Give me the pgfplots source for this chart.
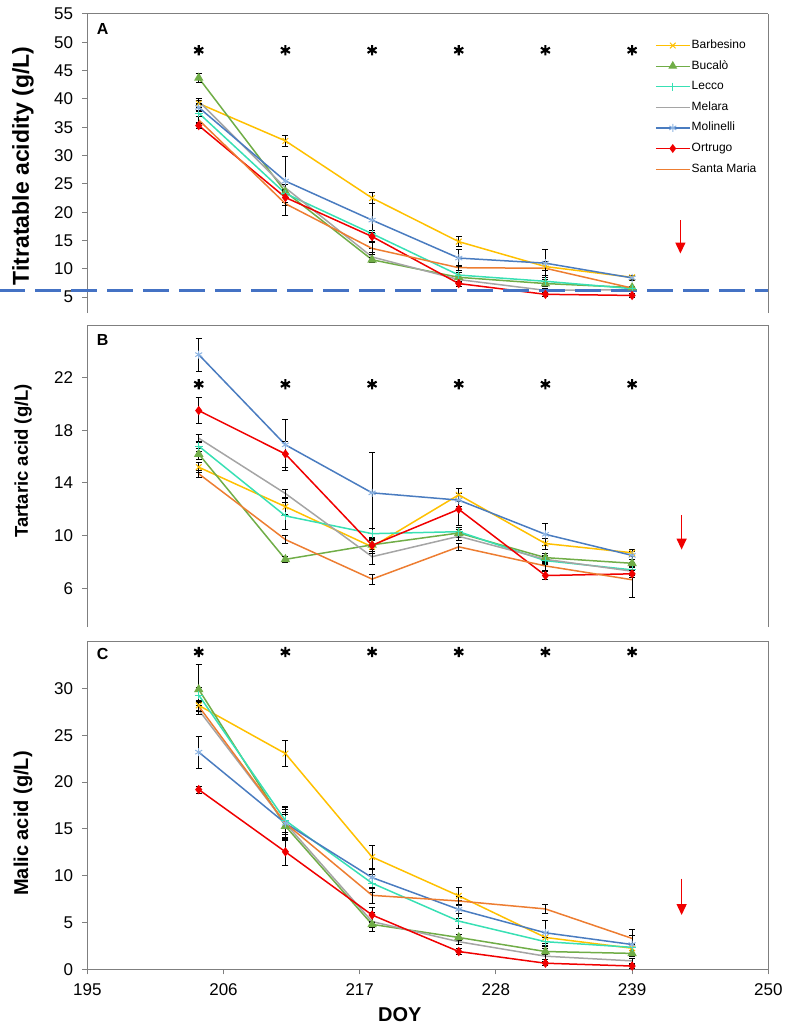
\documentclass[border=0pt]{standalone}
\usepackage{pgfplots}
\pgfplotsset{compat=1.18}
\usepackage{fontspec}
\setmainfont{Liberation Sans}
\usetikzlibrary{arrows.meta}
\definecolor{cBarb}{HTML}{FFC000}
\definecolor{cBuca}{HTML}{70AD47}
\definecolor{cLecc}{HTML}{38E0B4}
\definecolor{cMela}{HTML}{A5A5A5}
\definecolor{cMoli}{HTML}{4A7CC0}
\definecolor{cMoliM}{HTML}{8DB4E2}
\definecolor{cOrtr}{HTML}{F00000}
\definecolor{cSant}{HTML}{ED7D31}
\definecolor{axgray}{HTML}{7F7F7F}
\definecolor{cDash}{HTML}{4472C4}
\pgfplotsset{
  common/.style={scale only axis, width=681pt, xmin=195, xmax=250,
    axis line style={draw=axgray, line width=1pt},
    tick style={draw=axgray, line width=1pt}, major tick length=5pt,
    tick align=outside, tick pos=left,
    tick label style={font=\fontsize{17}{17}\selectfont},
    x tick label style={inner ysep=9pt},
    y tick label style={inner xsep=9pt},
    /pgf/number format/assume math mode=true,
    clip=false},
  ser/.style={line width=1.5pt,
    error bars/y dir=both, error bars/y explicit,
    error bars/error bar style={black, line width=0.6pt},
    error bars/error mark options={black, rotate=90, mark size=3pt, line width=0.6pt}},
  barb/.style={ser, color=cBarb, mark=x, mark size=4pt, mark options={line width=1pt}},
  buca/.style={ser, color=cBuca, mark=triangle*, mark size=4pt},
  lecc/.style={ser, color=cLecc, mark=+, mark size=4pt, mark options={line width=1pt}},
  mela/.style={ser, color=cMela, mark=none},
  moli/.style={ser, color=cMoli, mark=asterisk, mark size=4pt, mark options={draw=cMoliM, line width=1pt}},
  ortr/.style={ser, color=cOrtr, mark=diamond*, mark size=3.5pt},
  sant/.style={ser, color=cSant, mark=none},
  star/.style={only marks, mark=asterisk, mark size=5.2pt, black, line width=2.1pt, forget plot},
  rarrow/.style={color=cOrtr, line width=1.3pt, -{Triangle[width=10pt,length=11pt]}, forget plot},
  legend image code/.code={\draw[mark repeat=2,mark phase=2,#1,line width=1.2pt] plot coordinates {(0pt,0pt) (17pt,0pt) (34pt,0pt)};},
}
\begin{document}
\begin{tikzpicture}
\useasboundingbox (0pt,0pt) rectangle (787pt,-1030pt);
% ---------------- Panel A
\begin{axis}[common, at={(87.3pt,-14pt)}, anchor=north west, height=299pt,
  ymin=2.2, ymax=55, ytick={5,10,...,55}, xtick=\empty,
  separate axis lines, every outer x axis line/.append style={draw=none},
  ylabel={Titratable acidity (g/L)},
  ylabel style={at={(axis description cs:-0.0944,0.492)}, anchor=center, font=\fontsize{23}{23}\selectfont\bfseries},
  legend style={at={(axis description cs:0.8336,0.918)}, anchor=north west, draw=none, fill=none,
    font=\fontsize{12}{12}\selectfont, row sep=7pt, inner sep=0pt,
    nodes={text height=8.5pt, text depth=2.5pt, inner sep=1.3pt}},
  legend cell align=left]
\draw[axgray, line width=1pt] (rel axis cs:0,1) -- (rel axis cs:1,1);
\addplot[barb] coordinates {(204,39.2) +- (0,0.6) (211,32.6) +- (0,0.9) (218,22.5) +- (0,1.0) (225,14.8) +- (0,0.9) (232,10.4) +- (0,0.6) (239,8.5) +- (0,0.4)};
\addlegendentry{Barbesino}
\addplot[buca] coordinates {(204,43.7) +- (0,0.8) (211,23.6) +- (0,0.5) (218,11.6) +- (0,0.4) (225,8.5) +- (0,0.4) (232,7.4) +- (0,0.4) (239,6.7) +- (0,0.3)};
\addlegendentry{Bucalò}
\addplot[lecc] coordinates {(204,37.5) +- (0,0.5) (211,23.3) +- (0,0.6) (218,16.2) +- (0,0.6) (225,8.9) +- (0,0.4) (232,7.8) +- (0,0.4) (239,6.5) +- (0,0.3)};
\addlegendentry{Lecco}
\addplot[mela] coordinates {(204,39.6) +- (0,0.5) (211,24.3) +- (0,0.6) (218,12.1) +- (0,0.8) (225,8.1) +- (0,0.4) (232,6.2) +- (0,0.4) (239,6.3) +- (0,0.3)};
\addlegendentry{Melara}
\addplot[moli] coordinates {(204,38.5) +- (0,0.7) (211,25.5) +- (0,4.3) (218,18.6) +- (0,4.9) (225,11.9) +- (0,1.5) (232,11.0) +- (0,2.5) (239,8.4) +- (0,0.4)};
\addlegendentry{Molinelli}
\addplot[ortr] coordinates {(204,35.3) +- (0,0.5) (211,22.6) +- (0,0.8) (218,15.7) +- (0,0.8) (225,7.4) +- (0,0.4) (232,5.5) +- (0,0.3) (239,5.3) +- (0,0.3)};
\addlegendentry{Ortrugo}
\addplot[sant] coordinates {(204,36.3) +- (0,0.6) (211,21.5) +- (0,2.0) (218,13.6) +- (0,1.0) (225,10.2) +- (0,0.5) (232,10.1) +- (0,1.2) (239,6.6) +- (0,0.3)};
\addlegendentry{Santa Maria}
\addplot[color=cDash, line width=2.5pt, dash pattern=on 26pt off 10pt, forget plot] coordinates {(187.9,6.2) (250,6.2)};
\addplot[star] coordinates {(204,48.6) (211,48.6) (218,48.6) (225,48.6) (232,48.6) (239,48.6)};
\addplot[rarrow] coordinates {(242.9,18.6) (242.9,12.7)};
\node[anchor=base west, font=\fontsize{16}{16}\selectfont\bfseries] at ([xshift=6pt,yshift=-20.3pt]rel axis cs:0,1) {A};
\end{axis}
% ---------------- Panel B
\begin{axis}[common, at={(87.3pt,-325pt)}, anchor=north west, height=302pt,
  ymin=3.06, ymax=26, ytick={6,10,...,22}, xtick=\empty,
  separate axis lines, every outer x axis line/.append style={draw=none},
  ylabel={Tartaric acid (g/L)},
  ylabel style={at={(axis description cs:-0.0944,0.55)}, anchor=center, font=\fontsize{18.5}{18.5}\selectfont\bfseries}]
\draw[axgray, line width=1pt] (rel axis cs:0,1) -- (rel axis cs:1,1);
\addplot[barb] coordinates {(204,15.2) +- (0,0.4) (211,12.2) +- (0,0.6) (218,9.15) +- (0,0.5) (225,13.1) +- (0,0.5) (232,9.4) +- (0,0.4) (239,8.7) +- (0,0.3)};
\addplot[buca] coordinates {(204,16.2) +- (0,0.4) (211,8.2) +- (0,0.2) (218,9.3) +- (0,0.5) (225,10.2) +- (0,0.3) (232,8.33) +- (0,0.3) (239,7.9) +- (0,0.3)};
\addplot[lecc] coordinates {(204,16.8) +- (0,0.4) (211,11.5) +- (0,1.0) (218,10.15) +- (0,0.4) (225,10.3) +- (0,0.3) (232,8.1) +- (0,0.3) (239,7.4) +- (0,0.3)};
\addplot[mela] coordinates {(204,17.4) +- (0,0.3) (211,13.2) +- (0,0.3) (218,8.4) +- (0,0.6) (225,9.95) +- (0,0.3) (232,8.2) +- (0,0.3) (239,7.3) +- (0,0.3)};
\addplot[moli] coordinates {(204,23.75) +- (0,1.25) (211,16.9) +- (0,1.9) (218,13.25) +- (0,3.1) (225,12.7) +- (0,0.5) (232,10.1) +- (0,0.8) (239,8.5) +- (0,0.3)};
\addplot[ortr] coordinates {(204,19.5) +- (0,1.0) (211,16.2) +- (0,1.0) (218,9.27) +- (0,0.6) (225,12.0) +- (0,1.2) (232,6.97) +- (0,0.3) (239,7.1) +- (0,0.3)};
\addplot[sant] coordinates {(204,14.7) +- (0,0.3) (211,9.7) +- (0,0.3) (218,6.7) +- (0,0.4) (225,9.15) +- (0,0.3) (232,7.7) +- (0,0.3) (239,6.65) +- (0,1.3)};
\addplot[star] coordinates {(204,21.5) (211,21.5) (218,21.5) (225,21.5) (232,21.5) (239,21.5)};
\addplot[rarrow] coordinates {(243,11.55) (243,8.94)};
\node[anchor=base west, font=\fontsize{16}{16}\selectfont\bfseries] at ([xshift=6pt,yshift=-20pt]rel axis cs:0,1) {B};
\end{axis}
% ---------------- Panel C
\begin{axis}[common, at={(87.3pt,-641.7pt)}, anchor=north west, height=327.6pt,
  ymin=0, ymax=35, ytick={0,5,...,30}, xtick={195,206,217,228,239,250},
  ylabel={Malic acid (g/L)},
  ylabel style={at={(axis description cs:-0.0944,0.445)}, anchor=center, font=\fontsize{20}{20}\selectfont\bfseries},
  xlabel={DOY},
  xlabel style={at={(axis description cs:0.459,0)}, anchor=center, yshift=-45pt, font=\fontsize{20}{20}\selectfont\bfseries}]
\addplot[barb] coordinates {(204,28.2) +- (0,0.5) (211,23.05) +- (0,1.4) (218,12.0) +- (0,1.3) (225,7.85) +- (0,0.9) (232,3.4) +- (0,0.6) (239,2.25) +- (0,0.5)};
\addplot[buca] coordinates {(204,29.9) +- (0,2.7) (211,15.3) +- (0,1.5) (218,4.8) +- (0,0.3) (225,3.4) +- (0,0.3) (232,1.9) +- (0,0.3) (239,1.7) +- (0,0.3)};
\addplot[lecc] coordinates {(204,29.3) +- (0,0.8) (211,15.9) +- (0,1.5) (218,9.2) +- (0,1.0) (225,5.15) +- (0,0.8) (232,2.95) +- (0,0.5) (239,2.35) +- (0,0.3)};
\addplot[mela] coordinates {(204,27.7) +- (0,0.5) (211,15.6) +- (0,1.5) (218,5.1) +- (0,1.0) (225,2.95) +- (0,0.3) (232,1.4) +- (0,0.3) (239,0.9) +- (0,0.3)};
\addplot[moli] coordinates {(204,23.2) +- (0,1.7) (211,15.6) +- (0,1.7) (218,9.8) +- (0,1.0) (225,6.4) +- (0,1.0) (232,3.9) +- (0,1.3) (239,2.65) +- (0,1.0)};
\addplot[ortr] coordinates {(204,19.2) +- (0,0.4) (211,12.55) +- (0,1.4) (218,5.8) +- (0,0.8) (225,1.9) +- (0,0.3) (232,0.65) +- (0,0.2) (239,0.35) +- (0,0.2)};
\addplot[sant] coordinates {(204,28.1) +- (0,0.5) (211,15.6) +- (0,1.0) (218,7.9) +- (0,0.8) (225,7.3) +- (0,0.5) (232,6.45) +- (0,0.5) (239,3.3) +- (0,1.0)};
\addplot[star] coordinates {(204,33.9) (211,33.9) (218,33.9) (225,33.9) (232,33.9) (239,33.9)};
\addplot[rarrow] coordinates {(243,9.7) (243,5.8)};
\node[anchor=base west, font=\fontsize{16}{16}\selectfont\bfseries] at ([xshift=6pt,yshift=-17.3pt]rel axis cs:0,1) {C};
\end{axis}
\end{tikzpicture}
\end{document}
